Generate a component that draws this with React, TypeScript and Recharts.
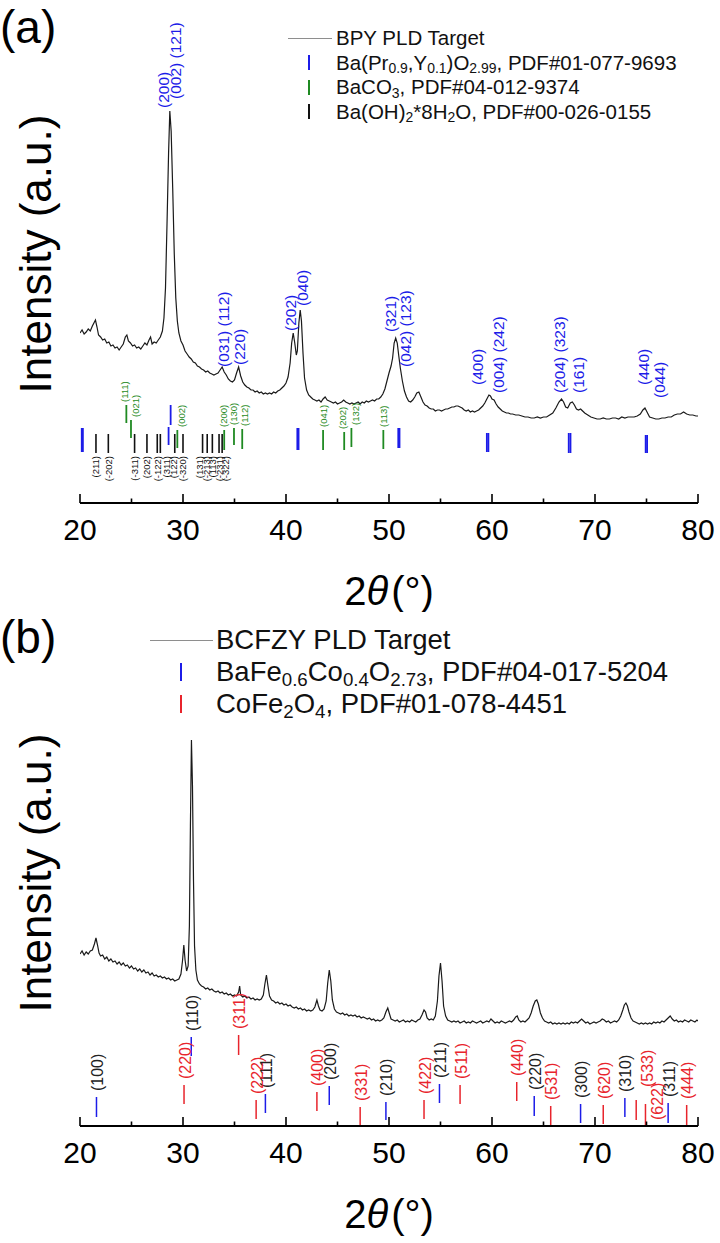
import React from 'react';
import { ComposedChart, Line, XAxis, YAxis, ReferenceLine, ReferenceDot, Legend } from 'recharts';

const FONT = '"Liberation Sans", Arial, Helvetica, sans-serif';
const BLUE = '#1c1ce8';
const GREEN = '#1f8a22';
const RED = '#e8242c';
const INK = '#111111';
const GRAY = '#8e8e8e';

const X_TICKS = [20, 25, 30, 35, 40, 45, 50, 55, 60, 65, 70, 75, 80];
const X_DOMAIN: [number, number] = [20, 80];
const Y_DOMAIN_A: [number, number] = [0, 498];
const Y_DOMAIN_B: [number, number] = [0, 505];

// ---------- panel (a): BPY PLD target, [2theta, intensity a.u.] ----------
const BPY_PATTERN: [number, number][] = [
  [20.0, 170], [20.2, 173], [20.4, 169], [20.6, 171], [20.8, 174], [21.0, 172], [21.2, 177], [21.4, 181], [21.5, 183], [21.65, 176],
  [21.8, 168], [22.0, 166], [22.2, 163], [22.4, 164], [22.6, 160], [22.8, 161], [23.0, 157], [23.2, 158], [23.4, 155], [23.6, 156],
  [23.8, 153], [24.0, 156], [24.2, 159], [24.4, 166], [24.55, 168], [24.7, 162], [24.9, 160], [25.1, 157], [25.3, 158], [25.5, 155],
  [25.7, 156], [25.9, 154], [26.1, 157], [26.3, 160], [26.5, 158], [26.7, 163], [26.85, 166], [27.0, 159], [27.2, 161], [27.4, 160],
  [27.6, 163], [27.8, 166], [28.0, 172], [28.15, 185], [28.3, 215], [28.45, 280], [28.6, 350], [28.72, 392], [28.85, 372], [29.0, 315],
  [29.15, 250], [29.3, 205], [29.45, 182], [29.6, 170], [29.8, 162], [30.0, 158], [30.2, 152], [30.4, 149], [30.6, 146], [30.8, 144],
  [31.0, 141], [31.2, 140], [31.4, 137], [31.6, 136], [31.8, 134], [32.0, 133], [32.2, 131], [32.4, 132], [32.6, 130], [32.8, 129],
  [33.0, 128], [33.2, 129], [33.4, 130], [33.6, 133], [33.8, 136], [34.0, 131], [34.2, 128], [34.4, 124], [34.6, 122], [34.8, 121],
  [35.0, 123], [35.2, 130], [35.4, 136], [35.6, 127], [35.8, 121], [36.0, 118], [36.2, 116], [36.4, 115], [36.6, 113], [36.8, 113],
  [37.0, 111], [37.2, 112], [37.4, 110], [37.6, 111], [37.8, 109], [38.0, 110], [38.2, 109], [38.4, 110], [38.6, 109], [38.8, 111],
  [39.0, 110], [39.2, 112], [39.4, 113], [39.6, 115], [39.8, 117], [40.0, 120], [40.2, 126], [40.4, 140], [40.55, 160], [40.7, 170],
  [40.85, 160], [41.0, 148], [41.1, 152], [41.25, 180], [41.38, 193], [41.5, 182], [41.65, 150], [41.8, 125], [42.0, 113], [42.2, 108],
  [42.4, 106], [42.6, 104], [42.8, 103], [43.0, 102], [43.2, 103], [43.4, 101], [43.6, 104], [43.8, 106], [44.0, 103], [44.2, 102],
  [44.4, 101], [44.6, 100], [44.8, 101], [45.0, 99], [45.2, 100], [45.4, 101], [45.6, 103], [45.8, 101], [46.0, 100], [46.2, 99],
  [46.4, 100], [46.6, 99], [46.8, 100], [47.0, 101], [47.2, 99], [47.4, 101], [47.6, 100], [47.8, 102], [48.0, 101], [48.2, 102],
  [48.4, 103], [48.6, 102], [48.8, 104], [49.0, 104], [49.2, 106], [49.4, 109], [49.6, 114], [49.8, 122], [50.0, 130], [50.2, 137],
  [50.35, 145], [50.5, 160], [50.65, 165], [50.8, 160], [50.95, 147], [51.1, 135], [51.3, 122], [51.5, 112], [51.7, 106], [51.9, 102],
  [52.1, 101], [52.3, 103], [52.5, 106], [52.7, 110], [52.9, 111], [53.1, 106], [53.3, 101], [53.5, 98], [53.7, 97], [53.9, 95],
  [54.1, 94], [54.3, 94], [54.5, 92], [54.7, 93], [54.9, 93], [55.1, 92], [55.3, 93], [55.5, 94], [55.7, 94], [55.9, 95],
  [56.1, 96], [56.3, 96], [56.5, 97], [56.7, 97], [56.9, 96], [57.1, 95], [57.3, 93], [57.5, 92], [57.7, 93], [57.9, 91],
  [58.1, 92], [58.3, 91], [58.5, 92], [58.7, 93], [58.9, 95], [59.1, 97], [59.3, 100], [59.5, 104], [59.7, 108], [59.85, 107],
  [60.0, 104], [60.2, 103], [60.4, 99], [60.6, 96], [60.8, 94], [61.0, 92], [61.2, 91], [61.4, 90], [61.6, 90], [61.8, 89],
  [62.0, 89], [62.3, 88], [62.6, 88], [62.9, 87], [63.2, 86], [63.5, 86], [63.8, 85], [64.1, 85], [64.4, 86], [64.7, 85],
  [65.0, 86], [65.3, 86], [65.6, 88], [65.9, 90], [66.2, 95], [66.5, 101], [66.75, 104], [66.95, 101], [67.15, 96], [67.35, 95],
  [67.6, 100], [67.8, 101], [68.0, 98], [68.2, 94], [68.4, 93], [68.6, 94], [68.8, 92], [69.0, 90], [69.3, 88], [69.6, 86],
  [69.9, 85], [70.2, 84], [70.5, 84], [70.8, 85], [71.1, 84], [71.4, 84], [71.7, 85], [72.0, 85], [72.3, 84], [72.6, 86],
  [72.9, 85], [73.2, 86], [73.5, 86], [73.8, 86], [74.1, 87], [74.4, 89], [74.65, 93], [74.85, 95], [75.05, 91], [75.3, 86],
  [75.6, 85], [75.9, 84], [76.2, 84], [76.5, 85], [76.8, 85], [77.1, 86], [77.4, 86], [77.7, 88], [78.0, 89], [78.3, 89],
  [78.6, 91], [78.9, 89], [79.2, 88], [79.5, 88], [79.8, 87], [80.0, 87],
];

const BPY_PEAK_LABELS = [
  { text: '(200)', t: 28.1, v: 395 },
  { text: '(002) (121)', t: 29.3, v: 404 },
  { text: '(031) (112)', t: 33.9, v: 136 },
  { text: '(220)', t: 35.5, v: 138 },
  { text: '(202)', t: 40.4, v: 172 },
  { text: '(040)', t: 41.6, v: 197 },
  { text: '(321)', t: 50.1, v: 171 },
  { text: '(042) (123)', t: 51.6, v: 136 },
  { text: '(400)', t: 58.6, v: 118 },
  { text: '(004) (242)', t: 60.6, v: 110 },
  { text: '(204) (323)', t: 66.6, v: 110 },
  { text: '(161)', t: 68.4, v: 110 },
  { text: '(440)', t: 74.7, v: 118 },
  { text: '(044)', t: 76.3, v: 105 },
];

type RefTick = { hkl?: string; t: number; lo: number; hi: number; lt?: number; lb?: number };

// Ba(Pr0.9,Y0.1)O2.99 reference (blue)
const BPY_REF: RefTick[] = [
  { t: 20.17, lo: 51, hi: 75 }, { t: 20.28, lo: 51, hi: 75 },
  { t: 28.6, lo: 58, hi: 76 }, { t: 28.8, lo: 78, hi: 98 },
  { t: 41.1, lo: 53, hi: 75 }, { t: 41.22, lo: 53, hi: 75 },
  { t: 50.9, lo: 55, hi: 75 }, { t: 51.02, lo: 55, hi: 75 },
  { t: 59.5, lo: 51, hi: 70 }, { t: 59.65, lo: 51, hi: 70 },
  { t: 67.45, lo: 50, hi: 70 }, { t: 67.62, lo: 50, hi: 70 },
  { t: 74.92, lo: 50, hi: 68 }, { t: 75.06, lo: 50, hi: 68 },
];

// BaCO3 reference (green)
const BACO3_REF: RefTick[] = [
  { hkl: '(111)', t: 24.5, lo: 80, hi: 98, lt: 24.35 },
  { hkl: '(021)', t: 24.95, lo: 65, hi: 83, lt: 25.4 },
  { hkl: '(002)', t: 29.45, lo: 55, hi: 73, lt: 29.85 },
  { hkl: '(200)', t: 34.0, lo: 53, hi: 73, lt: 33.95 },
  { hkl: '(130)', t: 34.95, lo: 58, hi: 75, lt: 34.9 },
  { hkl: '(112)', t: 35.75, lo: 54, hi: 74, lt: 36.0 },
  { hkl: '(041)', t: 43.6, lo: 53, hi: 73 },
  { hkl: '(202)', t: 45.65, lo: 53, hi: 71, lt: 45.5 },
  { hkl: '(132)', t: 46.35, lo: 56, hi: 75, lt: 46.7 },
  { hkl: '(113)', t: 49.45, lo: 54, hi: 73 },
];

// Ba(OH)2*8H2O reference (black)
const BAOH_REF: RefTick[] = [
  { hkl: '(211)', t: 21.55, lo: 50, hi: 69 },
  { hkl: '(-202)', t: 22.75, lo: 50, hi: 69 },
  { hkl: '(-311)', t: 25.3, lo: 50, hi: 69 },
  { hkl: '(202)', t: 26.5, lo: 50, hi: 69 },
  { hkl: '(-122)', t: 27.5, lo: 50, hi: 69 },
  { hkl: '(311)', t: 27.8, lo: 50, hi: 69, lt: 28.35 },
  { hkl: '(122)', t: 29.2, lo: 50, hi: 69, lt: 29.1 },
  { hkl: '(-320)', t: 30.0, lo: 50, hi: 69, lt: 29.95 },
  { hkl: '(131)', t: 31.9, lo: 50, hi: 69, lt: 31.65 },
  { hkl: '(-213)', t: 32.35, lo: 50, hi: 69, lt: 32.3 },
  { hkl: '(113)', t: 32.85, lo: 50, hi: 69, lt: 32.9 },
  { hkl: '(-231)', t: 33.5, lo: 50, hi: 69 },
  { hkl: '(-322)', t: 33.8, lo: 50, hi: 69, lt: 34.1 },
];

// ---------- panel (b): BCFZY PLD target ----------
const BCFZY_PATTERN: [number, number][] = [
  [20.0, 172], [20.2, 175], [20.4, 171], [20.6, 174], [20.8, 172], [21.0, 175], [21.2, 176], [21.4, 182], [21.55, 188], [21.7, 181],
  [21.85, 173], [22.0, 170], [22.2, 171], [22.4, 167], [22.6, 169], [22.8, 165], [23.0, 167], [23.2, 164], [23.4, 165], [23.6, 162],
  [23.8, 164], [24.0, 161], [24.2, 163], [24.4, 160], [24.6, 161], [24.8, 158], [25.0, 160], [25.2, 157], [25.4, 158], [25.6, 155],
  [25.8, 157], [26.0, 154], [26.2, 156], [26.4, 153], [26.6, 154], [26.8, 151], [27.0, 153], [27.2, 150], [27.4, 151], [27.6, 149],
  [27.8, 150], [28.0, 148], [28.2, 149], [28.4, 147], [28.6, 148], [28.8, 146], [29.0, 147], [29.2, 145], [29.4, 146], [29.6, 147],
  [29.8, 152], [29.95, 165], [30.08, 181], [30.2, 166], [30.35, 155], [30.5, 160], [30.62, 200], [30.72, 300], [30.82, 386], [30.92, 340],
  [31.02, 245], [31.12, 180], [31.25, 156], [31.4, 146], [31.6, 142], [31.8, 140], [32.0, 139], [32.2, 137], [32.4, 138], [32.6, 136],
  [32.8, 137], [33.0, 135], [33.2, 134], [33.4, 135], [33.6, 133], [33.8, 134], [34.0, 132], [34.2, 133], [34.4, 131], [34.6, 132],
  [34.8, 130], [35.0, 131], [35.2, 130], [35.4, 134], [35.5, 140], [35.6, 131], [35.8, 129], [36.0, 130], [36.2, 128], [36.4, 129],
  [36.6, 127], [36.8, 128], [37.0, 126], [37.2, 127], [37.4, 126], [37.6, 127], [37.8, 131], [37.95, 142], [38.1, 151], [38.25, 140],
  [38.4, 130], [38.6, 126], [38.8, 125], [39.0, 123], [39.2, 124], [39.4, 122], [39.6, 123], [39.8, 121], [40.0, 122], [40.2, 120],
  [40.4, 121], [40.6, 119], [40.8, 118], [41.0, 119], [41.2, 117], [41.4, 118], [41.6, 116], [41.8, 117], [42.0, 115], [42.2, 116],
  [42.4, 115], [42.6, 116], [42.8, 119], [43.0, 126], [43.15, 120], [43.3, 116], [43.5, 115], [43.7, 117], [43.9, 125], [44.05, 143],
  [44.2, 156], [44.35, 145], [44.5, 126], [44.7, 117], [44.9, 114], [45.1, 113], [45.3, 112], [45.5, 113], [45.7, 111], [45.9, 112],
  [46.1, 110], [46.3, 111], [46.5, 110], [46.7, 111], [46.9, 109], [47.1, 110], [47.3, 108], [47.5, 109], [47.7, 108], [47.9, 107],
  [48.1, 108], [48.3, 106], [48.5, 107], [48.7, 105], [48.9, 106], [49.1, 105], [49.3, 106], [49.5, 108], [49.7, 114], [49.88, 118],
  [50.05, 112], [50.2, 107], [50.4, 106], [50.6, 105], [50.8, 106], [51.0, 104], [51.2, 105], [51.4, 106], [51.6, 104], [51.8, 105],
  [52.0, 104], [52.2, 106], [52.4, 105], [52.6, 104], [52.8, 106], [53.0, 107], [53.2, 111], [53.4, 116], [53.55, 114], [53.7, 108],
  [53.9, 106], [54.1, 107], [54.3, 106], [54.5, 110], [54.7, 125], [54.85, 150], [55.0, 163], [55.15, 145], [55.3, 120], [55.5, 110],
  [55.7, 106], [55.9, 105], [56.1, 104], [56.3, 105], [56.5, 104], [56.7, 105], [56.9, 103], [57.1, 104], [57.3, 105], [57.5, 103],
  [57.7, 104], [57.9, 103], [58.1, 105], [58.3, 104], [58.5, 103], [58.7, 104], [58.9, 105], [59.1, 103], [59.3, 104], [59.5, 105],
  [59.7, 104], [59.9, 107], [60.1, 105], [60.3, 103], [60.5, 104], [60.7, 103], [60.9, 105], [61.1, 104], [61.3, 103], [61.5, 104],
  [61.7, 105], [61.9, 104], [62.1, 106], [62.3, 109], [62.45, 110], [62.6, 106], [62.8, 104], [63.0, 105], [63.2, 104], [63.4, 106],
  [63.6, 108], [63.8, 113], [64.0, 120], [64.2, 125], [64.35, 126], [64.5, 122], [64.7, 113], [64.9, 108], [65.1, 105], [65.3, 104],
  [65.5, 103], [65.7, 104], [65.9, 102], [66.1, 103], [66.3, 102], [66.5, 103], [66.7, 102], [66.9, 103], [67.1, 102], [67.3, 103],
  [67.5, 102], [67.7, 104], [67.9, 103], [68.1, 104], [68.3, 103], [68.5, 105], [68.7, 107], [68.9, 105], [69.1, 103], [69.3, 104],
  [69.5, 102], [69.7, 103], [69.9, 104], [70.1, 103], [70.3, 104], [70.5, 105], [70.7, 107], [70.9, 106], [71.1, 104], [71.3, 105],
  [71.5, 103], [71.7, 104], [71.9, 105], [72.1, 104], [72.3, 106], [72.5, 110], [72.7, 116], [72.85, 121], [73.0, 123], [73.15, 120],
  [73.3, 114], [73.5, 108], [73.7, 105], [73.9, 104], [74.1, 103], [74.3, 102], [74.5, 103], [74.7, 102], [74.9, 103], [75.1, 102],
  [75.3, 103], [75.5, 102], [75.7, 104], [75.9, 103], [76.1, 104], [76.3, 103], [76.5, 105], [76.7, 104], [76.9, 106], [77.1, 108],
  [77.3, 110], [77.5, 107], [77.7, 105], [77.9, 106], [78.1, 104], [78.3, 105], [78.5, 104], [78.7, 106], [78.9, 105], [79.1, 104],
  [79.3, 106], [79.5, 105], [79.7, 104], [79.9, 106], [80.0, 105],
];

// BaFe0.6Co0.4O2.73 reference (blue ticks, black labels)
const BFCO_REF: RefTick[] = [
  { hkl: '(100)', t: 21.6, lo: 9, hi: 29 },
  { hkl: '(110)', t: 30.8, lo: 70, hi: 89 },
  { hkl: '(111)', t: 38.0, lo: 13, hi: 32 },
  { hkl: '(200)', t: 44.2, lo: 21, hi: 40 },
  { hkl: '(210)', t: 49.7, lo: 6, hi: 24 },
  { hkl: '(211)', t: 54.9, lo: 23, hi: 42 },
  { hkl: '(220)', t: 64.1, lo: 10, hi: 30 },
  { hkl: '(300)', t: 68.6, lo: 3, hi: 22 },
  { hkl: '(310)', t: 72.9, lo: 9, hi: 28 },
  { hkl: '(311)', t: 77.1, lo: 3, hi: 23 },
];

// CoFe2O4 reference (red)
const CFO_REF: RefTick[] = [
  { hkl: '(220)', t: 30.1, lo: 22, hi: 41 },
  { hkl: '(311)', t: 35.4, lo: 71, hi: 91 },
  { hkl: '(222)', t: 37.1, lo: 7, hi: 26 },
  { hkl: '(400)', t: 43.0, lo: 15, hi: 34 },
  { hkl: '(331)', t: 47.2, lo: 1, hi: 19 },
  { hkl: '(422)', t: 53.4, lo: 7, hi: 26 },
  { hkl: '(511)', t: 56.9, lo: 22, hi: 41 },
  { hkl: '(440)', t: 62.4, lo: 25, hi: 44 },
  { hkl: '(531)', t: 65.7, lo: 1, hi: 20 },
  { hkl: '(620)', t: 70.8, lo: 2, hi: 21 },
  { hkl: '(533)', t: 74.0, lo: 6, hi: 26, lt: 75.0, lb: 33 },
  { hkl: '(622)', t: 74.9, lo: 1, hi: 22, lt: 75.95, lb: 0 },
  { hkl: '(444)', t: 78.9, lo: 1, hi: 21 },
];

const LEGEND_A = [
  { kind: 'line', color: GRAY, parts: ['BPY PLD Target'] },
  { kind: 'tick', color: BLUE, parts: ['Ba(Pr', '0.9', ',Y', '0.1', ')O', '2.99', ', PDF#01-077-9693'] },
  { kind: 'tick', color: GREEN, parts: ['BaCO', '3', ', PDF#04-012-9374'] },
  { kind: 'tick', color: INK, parts: ['Ba(OH)', '2', '*8H', '2', 'O, PDF#00-026-0155'] },
];
const LEGEND_B = [
  { kind: 'line', color: GRAY, parts: ['BCFZY PLD Target'] },
  { kind: 'tick', color: BLUE, parts: ['BaFe', '0.6', 'Co', '0.4', 'O', '2.73', ', PDF#04-017-5204'] },
  { kind: 'tick', color: RED, parts: ['CoFe', '2', 'O', '4', ', PDF#01-078-4451'] },
];

// ---------- helpers ----------
const AxisTick = (props: any) => {
  const { x, y, payload } = props;
  const v = payload.value;
  const major = v % 10 === 0;
  return (
    <g>
      <line x1={x} x2={x} y1={y} y2={y - (major ? 9 : 4.5)} stroke="#000" strokeWidth={1.6} />
      {major && (
        <text x={x} y={y + 37} textAnchor="middle" fontSize={30} fontFamily={FONT} fill="#000">{v}</text>
      )}
    </g>
  );
};

const xTitle = (p: any) => {
  const vb = p.viewBox || {};
  const cx = (vb.x ?? 80) + (vb.width ?? 618) / 2;
  const by = (vb.y ?? 0) + 102;
  return (
    <text x={cx} y={by} textAnchor="middle" fontSize={40} fontFamily={FONT} fill="#000">
      <tspan>2</tspan><tspan fontStyle="italic">θ</tspan><tspan dx={3}>(°)</tspan>
    </text>
  );
};

const upText = (text: string, color: string, size: number, dx: number, gap: number) => (p: any) => (
  <text transform={`translate(${p.cx + dx},${p.cy - gap}) rotate(-90)`} textAnchor="start" dominantBaseline="central"
    fontSize={size} fontFamily={FONT} fill={color}>{text}</text>
);
const downText = (text: string, color: string, size: number, dx: number, gap: number) => (p: any) => (
  <text transform={`translate(${p.cx + dx},${p.cy + gap}) rotate(-90)`} textAnchor="end" dominantBaseline="central"
    fontSize={size} fontFamily={FONT} fill={color}>{text}</text>
);

const refLines = (list: RefTick[], color: string, width: number, key: string) =>
  list.map((r, i) => (
    <ReferenceLine key={`${key}-l${i}`} segment={[{ x: r.t, y: r.lo }, { x: r.t, y: r.hi }]}
      stroke={color} strokeWidth={width} ifOverflow="visible" />
  ));

const renderLegend = (items: typeof LEGEND_A, o: { font: number; rowH: number; markW: number; lineW: number; tickX: number; tickH: number }) => () => (
  <div style={{ fontFamily: FONT, fontSize: o.font, color: '#111', whiteSpace: 'nowrap' }}>
    {items.map((it, i) => (
      <div key={i} style={{ position: 'relative', height: o.rowH, display: 'flex', alignItems: 'center' }}>
        <div style={{ position: 'relative', width: o.markW, height: o.rowH, flex: 'none' }}>
          {it.kind === 'line' ? (
            <div style={{ position: 'absolute', left: 0, width: o.lineW, top: o.rowH / 2, height: 0, borderTop: `1.4px solid ${it.color}` }} />
          ) : (
            <div style={{ position: 'absolute', left: o.tickX - 1, width: 2, top: (o.rowH - o.tickH) / 2, height: o.tickH, background: it.color }} />
          )}
        </div>
        <span style={{ lineHeight: 1 }}>
          {it.parts.map((p, j) =>
            j % 2 ? (
              <span key={j} style={{ fontSize: '0.68em', position: 'relative', top: '0.26em', lineHeight: 0 }}>{p}</span>
            ) : (
              <span key={j}>{p}</span>
            ),
          )}
        </span>
      </div>
    ))}
  </div>
);

const frameAxes = (domain: [number, number]) => [
  <XAxis key="xt" xAxisId="top" orientation="top" type="number" dataKey="t" domain={X_DOMAIN} height={0}
    tick={false} tickLine={false} axisLine={{ stroke: '#222', strokeWidth: 1.6 }} allowDataOverflow />,
  <YAxis key="yr" yAxisId="r" orientation="right" type="number" domain={domain} width={0}
    tick={false} tickLine={false} axisLine={{ stroke: '#222', strokeWidth: 2 }} allowDataOverflow />,
];

const dataA = BPY_PATTERN.map(([t, v]) => ({ t, v }));
const dataB = BCFZY_PATTERN.map(([t, v]) => ({ t, v }));

function ChartA() {
  return (
    <ComposedChart width={720} height={612} data={dataA} margin={{ top: 5, right: 22, bottom: 0, left: 80 }}>
      <XAxis type="number" dataKey="t" domain={X_DOMAIN} ticks={X_TICKS} interval={0} height={109}
        tickSize={0} tickMargin={0} tickLine={false} tick={<AxisTick />} axisLine={{ stroke: '#000', strokeWidth: 2 }}
        allowDataOverflow label={{ content: xTitle }} />
      <YAxis type="number" domain={Y_DOMAIN_A} width={0} tick={false} tickLine={false}
        axisLine={{ stroke: '#000', strokeWidth: 2 }} allowDataOverflow />
      {frameAxes(Y_DOMAIN_A)}
      {refLines(BPY_REF, BLUE, 1.8, 'bpy')}
      {refLines(BACO3_REF, GREEN, 1.8, 'bc')}
      {refLines(BAOH_REF, INK, 1.6, 'bo')}
      {BACO3_REF.map((r, i) => (
        <ReferenceDot key={`bcl${i}`} x={r.lt ?? r.t} y={r.hi} r={1} ifOverflow="visible"
          shape={upText(r.hkl as string, GREEN, 9.5, 0, 3)} />
      ))}
      {BAOH_REF.map((r, i) => (
        <ReferenceDot key={`bol${i}`} x={r.lt ?? r.t} y={r.lo} r={1} ifOverflow="visible"
          shape={downText(r.hkl as string, INK, 9.5, 0, 3)} />
      ))}
      {BPY_PEAK_LABELS.map((l, i) => (
        <ReferenceDot key={`pl${i}`} x={l.t} y={l.v} r={1} ifOverflow="visible"
          shape={upText(l.text, BLUE, 15.5, 0, 0)} />
      ))}
      <Line type="linear" dataKey="v" name="BPY PLD Target" stroke="#1a1a1a" strokeWidth={1.2} dot={false}
        isAnimationActive={false} />
      <Legend layout="vertical" align="center" verticalAlign="middle"
        wrapperStyle={{ left: 288, top: 26, width: 420 }}
        content={renderLegend(LEGEND_A, { font: 20.5, rowH: 24.5, markW: 48, lineW: 44, tickX: 21, tickH: 15 })} />
    </ComposedChart>
  );
}

function ChartB() {
  return (
    <ComposedChart width={720} height={631} data={dataB} margin={{ top: 9, right: 22, bottom: 0, left: 80 }}>
      <XAxis type="number" dataKey="t" domain={X_DOMAIN} ticks={X_TICKS} interval={0} height={117}
        tickSize={0} tickMargin={0} tickLine={false} tick={<AxisTick />} axisLine={{ stroke: '#000', strokeWidth: 2 }}
        allowDataOverflow label={{ content: xTitle }} />
      <YAxis type="number" domain={Y_DOMAIN_B} width={0} tick={false} tickLine={false}
        axisLine={{ stroke: '#000', strokeWidth: 2 }} allowDataOverflow />
      {frameAxes(Y_DOMAIN_B)}
      {refLines(BFCO_REF, BLUE, 1.5, 'bf')}
      {refLines(CFO_REF, RED, 1.5, 'cf')}
      {BFCO_REF.map((r, i) => (
        <ReferenceDot key={`bfl${i}`} x={r.lt ?? r.t} y={r.lb ?? r.hi} r={1} ifOverflow="visible"
          shape={upText(r.hkl as string, '#222', 16, 1, 6)} />
      ))}
      {CFO_REF.map((r, i) => (
        <ReferenceDot key={`cfl${i}`} x={r.lt ?? r.t} y={r.lb ?? r.hi} r={1} ifOverflow="visible"
          shape={upText(r.hkl as string, RED, 16, 1, 6)} />
      ))}
      <Line type="linear" dataKey="v" name="BCFZY PLD Target" stroke="#1a1a1a" strokeWidth={1.2} dot={false}
        isAnimationActive={false} />
      <Legend layout="vertical" align="center" verticalAlign="middle"
        wrapperStyle={{ left: 150, top: 12, width: 560 }}
        content={renderLegend(LEGEND_B, { font: 27.5, rowH: 32, markW: 66, lineW: 63, tickX: 31, tickH: 18 })} />
    </ComposedChart>
  );
}

// static titles (panel letters and y-axis titles)
const Titles = () => (
  <svg width={720} height={1243} style={{ position: 'absolute', left: 0, top: 0, pointerEvents: 'none' }}>
    <text x={0} y={43} fontSize={46} fontFamily={FONT} fill="#000">(a)</text>
    <text x={0} y={653} fontSize={46} fontFamily={FONT} fill="#000">(b)</text>
    <text transform="translate(51,254) rotate(-90)" textAnchor="middle" fontSize={44} fontFamily={FONT} fill="#000">Intensity (a.u.)</text>
    <text transform="translate(51,873) rotate(-90)" textAnchor="middle" fontSize={44} fontFamily={FONT} fill="#000">Intensity (a.u.)</text>
  </svg>
);

export default function App() {
  return (
    <div style={{ position: 'absolute', left: 0, top: 0, width: 720, height: 1243, background: '#fff' }}>
      <div style={{ position: 'absolute', left: 0, top: 0, width: 720, height: 612 }}>
        <ChartA />
      </div>
      <div style={{ position: 'absolute', left: 0, top: 612, width: 720, height: 631 }}>
        <ChartB />
      </div>
      <Titles />
    </div>
  );
}
